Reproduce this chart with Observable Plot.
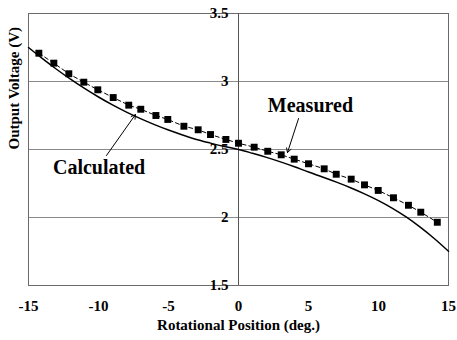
<!DOCTYPE html>
<html>
<head>
<meta charset="utf-8">
<script src="https://cdn.jsdelivr.net/npm/d3@7"></script>
<script src="https://cdn.jsdelivr.net/npm/@observablehq/plot@0.6"></script>
<style>
  html, body { margin: 0; padding: 0; background: #fff; }
  svg text { font-family: 'Liberation Serif', 'Times New Roman', serif; }
</style>
</head>
<body>
<div id="chart"></div>
<script>
// Measured (squares, dashed)
const measuredX = [-14.26, -13.19, -12.12, -11.05, -10.05, -8.95, -7.84, -6.98, -5.9, -5.05, -3.9, -2.88, -2.0, -0.9, 0.0, 1.12, 2.09, 3.05, 3.98, 5.0, 6.12, 6.98, 8.05, 9.0, 9.98, 11.07, 12.14, 13.02, 14.2];
const measuredV = [3.208, 3.135, 3.057, 2.995, 2.939, 2.882, 2.826, 2.796, 2.75, 2.721, 2.671, 2.645, 2.61, 2.574, 2.546, 2.517, 2.487, 2.461, 2.429, 2.395, 2.358, 2.318, 2.282, 2.24, 2.199, 2.145, 2.09, 2.039, 1.965];

// Calculated (solid line)
const calcX = [-15, -14, -13, -12, -11, -10, -9, -8, -7, -6, -5, -4, -3, -2, -1, 0, 1, 2, 3, 4, 5, 6, 7, 8, 9, 10, 11, 12, 13, 14, 15];
const calcV = [3.25, 3.168, 3.09, 3.017, 2.949, 2.886, 2.828, 2.775, 2.727, 2.683, 2.643, 2.607, 2.574, 2.547, 2.522, 2.5, 2.472, 2.442, 2.409, 2.373, 2.334, 2.298, 2.26, 2.219, 2.174, 2.124, 2.067, 2.002, 1.927, 1.844, 1.752];

const xTicks = [-15, -10, -5, 0, 5, 10, 15];
const yTicks = [1.5, 2, 2.5, 3, 3.5];
const yTickLabels = ["1.5", "2", "2.5", "3", "3.5"];

// Annotations
const labelText = ["Measured", "Calculated"];
const labelX = [5.14, -9.96];
const labelY = [2.82, 2.365];
const arrowX1 = [4.29, -9.43];
const arrowY1 = [2.728, 2.456];
const arrowX2 = [3.5, -7.36];
const arrowY2 = [2.478, 2.757];

const measured = measuredX.map((x, i) => ({x, v: measuredV[i]}));
const calculated = calcX.map((x, i) => ({x, v: calcV[i]}));
const labels = labelText.map((t, i) => ({t, x: labelX[i], y: labelY[i]}));
const arrows = arrowX1.map((x1, i) => ({x1, y1: arrowY1[i], x2: arrowX2[i], y2: arrowY2[i]}));
const yLab = yTicks.map((v, i) => ({v, t: yTickLabels[i]}));

const font = "'Liberation Serif', 'Times New Roman', serif";

const chart = Plot.plot({
  width: 457,
  height: 340,
  marginLeft: 28,
  marginRight: 9,
  marginTop: 13,
  marginBottom: 55,
  style: {fontFamily: font, background: "#fff"},
  x: {domain: [-15, 15]},
  y: {domain: [1.5, 3.5]},
  marks: [
    Plot.ruleY([2, 2.5, 3], {stroke: "#8a8a8a", strokeWidth: 1}),
    Plot.frame({stroke: "#6a6a6a", strokeWidth: 1}),
    Plot.ruleX([0], {stroke: "#555", strokeWidth: 1}),
    Plot.axisX({ticks: xTicks, tickSize: 4, tickPadding: 11, tickFormat: d => String(d).replace("−", "-"),
      fontSize: 15, fontWeight: "bold", fill: "#000", stroke: null, label: null}),
    Plot.axisY({ticks: [], label: null}),
    Plot.text(yLab, {x: 0, y: "v", text: "t", textAnchor: "end", dx: -10, fontSize: 15, fontWeight: "bold", fill: "#000"}),
    Plot.line(calculated, {x: "x", y: "v", stroke: "#000", strokeWidth: 1.5, curve: "catmull-rom"}),
    Plot.line(measured, {x: "x", y: "v", stroke: "#000", strokeWidth: 1, strokeDasharray: "4,3"}),
    Plot.dot(measured, {x: "x", y: "v", symbol: "square", r: 3.9, fill: "#000", stroke: null}),
    Plot.arrow(arrows, {x1: "x1", y1: "y1", x2: "x2", y2: "y2", stroke: "#000", strokeWidth: 1, headLength: 7}),
    Plot.text(labels, {x: "x", y: "y", text: "t", fontSize: 20, fontWeight: "bold", fill: "#000"}),
    Plot.text(["Rotational Position (deg.)"], {frameAnchor: "bottom", dy: 44, fontSize: 15, fontWeight: "bold", fill: "#000"}),
    Plot.text(["Output Voltage (V)"], {frameAnchor: "left", dx: -14, rotate: -90, fontSize: 15, fontWeight: "bold", fill: "#000"})
  ]
});
document.getElementById("chart").appendChild(chart);
</script>
</body>
</html>
